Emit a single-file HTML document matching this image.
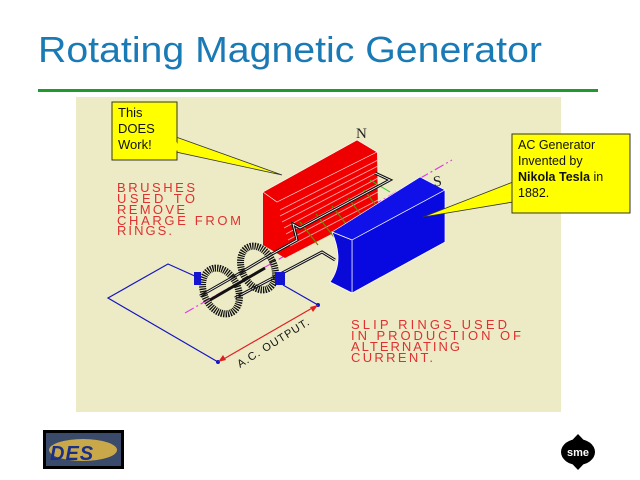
<!DOCTYPE html>
<html><head><meta charset="utf-8"><style>
html,body{margin:0;padding:0;background:#fff;}
svg{display:block;}
</style></head><body>
<svg width="640" height="480" viewBox="0 0 640 480" xmlns="http://www.w3.org/2000/svg" font-family="Liberation Sans, sans-serif">
<rect width="640" height="480" fill="#fff"/>
<text x="38" y="62" font-size="36" fill="#1a7ab5" textLength="504" lengthAdjust="spacingAndGlyphs">Rotating Magnetic Generator</text>
<rect x="38" y="89" width="560" height="3" fill="#1e9a2e"/>
<rect x="76" y="97" width="485" height="315" fill="#ecebc6"/>
<line x1="185" y1="313" x2="452" y2="160" stroke="#e040e0" stroke-width="1.2" stroke-dasharray="10,3,2,3"/>
<polygon points="263,192 357,140 377,152 378,210 285,258 263,245" fill="#f20000"/>
<polygon points="263,192 357,140 377,152 277,202" fill="#ee0000" stroke="#fff" stroke-width="0.6"/>
<g stroke="#ffb0b0" stroke-width="0.8">
<line x1="280" y1="210" x2="378" y2="160"/><line x1="280" y1="216" x2="378" y2="166"/><line x1="282" y1="222" x2="378" y2="172"/><line x1="284" y1="228" x2="378" y2="178"/><line x1="286" y1="234" x2="378" y2="184"/><line x1="288" y1="240" x2="378" y2="192"/><line x1="290" y1="246" x2="378" y2="200"/>
</g>
<g stroke="#6a8a00" stroke-width="1.2">
<line x1="300" y1="222" x2="318" y2="245"/><line x1="316" y1="214" x2="334" y2="237"/><line x1="332" y1="206" x2="350" y2="229"/><line x1="348" y1="198" x2="366" y2="221"/><line x1="364" y1="190" x2="378" y2="208"/>
</g>
<line x1="370" y1="180" x2="390" y2="192" stroke="#20d020"/>
<g fill="none" stroke="#111" stroke-width="3">
<polyline points="375,173 390,180 300,228 293,224 297,240 265,258 235,276 200,296"/>
<polyline points="335,260 322,252 250,290 235,298"/>
</g>
<g fill="none" stroke="#fff" stroke-width="0.8">
<polyline points="375,173 390,180 300,228 293,224 297,240 265,258 235,276 200,296"/>
<polyline points="335,260 322,252 250,290 235,298"/>
</g>
<polygon points="332,232 420,177 445,190 352,240" fill="#1010e8" stroke="#fff" stroke-width="0.7"/>
<polygon points="352,240 445,190 445,242 352,293" fill="#0808e0" stroke="#fff" stroke-width="0.7"/>
<path d="M332,232 L352,240 L352,293 L330,282 Q345,262 332,232 Z" fill="#0a0ad8" stroke="#fff" stroke-width="0.7"/>
<text x="356" y="138" font-family="Liberation Serif, serif" font-size="15" fill="#222">N</text>
<text x="433" y="186" font-family="Liberation Serif, serif" font-size="15" fill="#222" transform="rotate(-10 438 180)">S</text>
<g fill="none" stroke="#111" stroke-width="7" stroke-dasharray="1.3,1">
<ellipse cx="221" cy="291" rx="17" ry="24" transform="rotate(-25 221 291)"/>
<ellipse cx="258" cy="268" rx="16" ry="23" transform="rotate(-25 258 268)"/>
</g>
<line x1="210" y1="300" x2="265" y2="268" stroke="#111" stroke-width="3"/>
<rect x="194" y="272" width="7" height="13" fill="#1515d0"/>
<rect x="275" y="272" width="10" height="13" fill="#1515d0"/>
<polyline points="197,277 168,264 108,298 218,362" fill="none" stroke="#1515c0" stroke-width="1.2"/>
<polyline points="283,285 318,305" fill="none" stroke="#1515c0" stroke-width="1.2"/>
<circle cx="218" cy="362" r="2" fill="#1515c0"/><circle cx="318" cy="305" r="2" fill="#1515c0"/>
<line x1="222" y1="360" x2="314" y2="307" stroke="#e02020" stroke-width="1.2"/>
<polygon points="318,305 310,307 313,312" fill="#e02020"/>
<polygon points="218,362 226,360 223,355" fill="#e02020"/>
<text x="0" y="0" font-size="11" fill="#111" transform="translate(240,368) rotate(-32)" letter-spacing="1">A.C. OUTPUT.</text>
<g font-size="13" fill="#e03030" lengthAdjust="spacingAndGlyphs">
<text x="117" y="192" textLength="78">BRUSHES</text>
<text x="117" y="203" textLength="78">USED  TO</text>
<text x="117" y="214" textLength="68">REMOVE</text>
<text x="117" y="225" textLength="124">CHARGE   FROM</text>
<text x="117" y="235" textLength="55">RINGS.</text>
<text x="351" y="329" textLength="156">SLIP  RINGS  USED</text>
<text x="351" y="340" textLength="170">IN  PRODUCTION  OF</text>
<text x="351" y="351" textLength="109">ALTERNATING</text>
<text x="351" y="362" textLength="82">CURRENT.</text>
</g>
<polygon points="176,137 282,175 176,152" fill="#ffff00" stroke="#333" stroke-width="0.8"/>
<rect x="112" y="102" width="65" height="58" fill="#ffff00" stroke="#333" stroke-width="1"/>
<polygon points="175,138 175,151 180,150" fill="#ffff00"/>
<g font-size="13" fill="#111"><text x="118" y="117">This</text><text x="118" y="133">DOES</text><text x="118" y="149">Work!</text></g>
<polygon points="513,182 423,217 513,202" fill="#ffff00" stroke="#333" stroke-width="0.8"/>
<rect x="512" y="134" width="118" height="79" fill="#ffff00" stroke="#333" stroke-width="1"/>
<g font-size="12.5" fill="#111"><text x="518" y="149">AC Generator</text><text x="518" y="165">Invented by</text><text x="518" y="181"><tspan font-weight="bold">Nikola Tesla</tspan> in</text><text x="518" y="197">1882.</text></g>
<rect x="43" y="430" width="81" height="39" fill="#000"/>
<rect x="46" y="433" width="75" height="33" fill="#3a4a6a"/>
<ellipse cx="83" cy="450" rx="34" ry="11" fill="#c9a84a"/>
<text x="50" y="460" font-size="20" font-weight="bold" font-style="italic" fill="#1a2f8a" letter-spacing="1">DES</text>
<polygon points="578,434 595,452 578,470 561,452" fill="#000"/>
<ellipse cx="578" cy="452" rx="17" ry="13" fill="#000"/>
<text x="578" y="456" font-size="11" font-weight="bold" fill="#fff" text-anchor="middle">sme</text>
</svg>
</body></html>
